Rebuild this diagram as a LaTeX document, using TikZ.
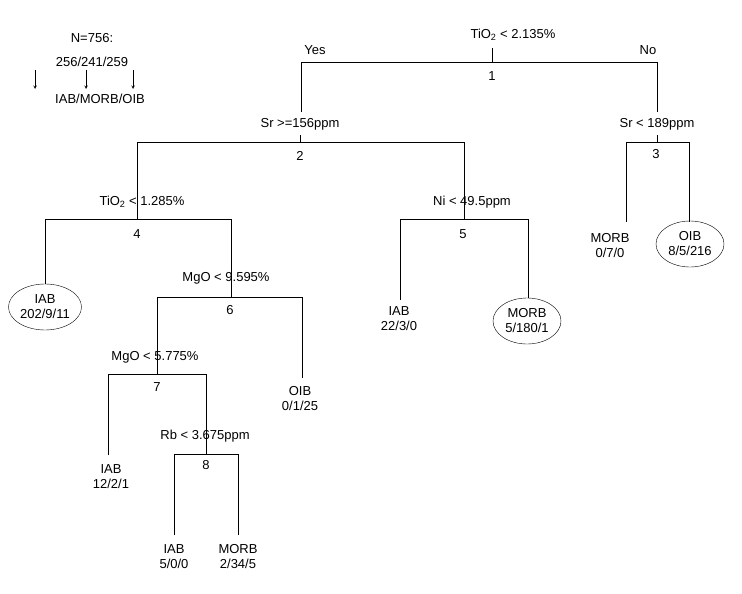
\documentclass[tikz,border=0pt]{standalone}
\usepackage{fontspec}
\setmainfont{Liberation Sans}
\usetikzlibrary{shapes.geometric}
\begin{document}
\begin{tikzpicture}[x=1pt,y=-1pt,
  lab/.style={font=\fontsize{13}{15}\selectfont, inner sep=0pt, align=center},
  leaf/.style={lab},
  oval/.style={lab, ellipse, draw, inner sep=1pt, minimum width=68, minimum height=46},
  edge/.style={line width=0.6pt}]
\useasboundingbox (0,0) rectangle (742,594);
% legend
\node[lab] (n) at (92,38) {N=756:};
\node[lab] (cnt) at (92,62) {256/241/259};
\node[lab] (cls) at (100,99) {IAB/MORB/OIB};
\coordinate (a1s) at (35,70); \coordinate (a1e) at (35,89);
\coordinate (a2s) at (86,70); \coordinate (a2e) at (86,89);
\coordinate (a3s) at (133,70); \coordinate (a3e) at (133,89);
\foreach \i in {1,2,3} \draw[edge,->,>=stealth] (a\i s) -- (a\i e);
% split labels
\node[lab] (s1) at (513,35) {TiO\textsubscript{2} < 2.135\%};
\node[lab] (yes) at (315,50) {Yes};
\node[lab] (no) at (648,50) {No};
\node[lab] (i1) at (492,76) {1};
\node[lab] (s2) at (300,124) {Sr >=156ppm};
\node[lab] (i2) at (300,156) {2};
\node[lab] (s3) at (657,124) {Sr < 189ppm};
\node[lab] (i3) at (656,154) {3};
\node[lab] (s4) at (142,202) {TiO\textsubscript{2} < 1.285\%};
\node[lab] (i4) at (137,234) {4};
\node[lab] (s5) at (472,202) {Ni < 49.5ppm};
\node[lab] (i5) at (463,234) {5};
\node[lab] (s6) at (226,278) {MgO < 9.595\%};
\node[lab] (i6) at (230,310) {6};
\node[lab] (s7) at (155,357) {MgO < 5.775\%};
\node[lab] (i7) at (157,387) {7};
\node[lab] (s8) at (205,436) {Rb < 3.675ppm};
\node[lab] (i8) at (206,465) {8};
% leaves
\node[leaf] (l3a) at (610,246) {MORB\\0/7/0};
\node[oval] (l3b) at (690,244) {OIB\\8/5/216};
\node[oval] (l4a) at (45,307) {IAB\\202/9/11};
\node[leaf] (l5a) at (399,319) {IAB\\22/3/0};
\node[oval] (l5b) at (527,321) {MORB\\5/180/1};
\node[leaf] (l6b) at (300,399) {OIB\\0/1/25};
\node[leaf] (l7a) at (111,477) {IAB\\12/2/1};
\node[leaf] (l8a) at (174,557) {IAB\\5/0/0};
\node[leaf] (l8b) at (238,557) {MORB\\2/34/5};
% tree lines
\draw[edge] (492,48) -- (492,62);
\draw[edge] (301,112) -- (301,62) -- (657,62) -- (657,112);
\draw[edge] (300,135) -- (300,142);
\draw[edge] (137,190) -- (137,142) -- (464,142) -- (464,190);
\draw[edge] (657,135) -- (657,142);
\draw[edge] (626,222) -- (626,142) -- (689,142) -- (689,222);
\draw[edge] (137,190) -- (137,219);
\draw[edge] (45,284) -- (45,219) -- (231,219) -- (231,297);
\draw[edge] (464,190) -- (464,219);
\draw[edge] (400,300) -- (400,219) -- (528,219) -- (528,298);
\draw[edge] (157,374) -- (157,297) -- (302,297) -- (302,378);
\draw[edge] (108,455) -- (108,374) -- (206,374) -- (206,454);
\draw[edge] (174,535) -- (174,454) -- (238,454) -- (238,535);
\end{tikzpicture}
\end{document}
